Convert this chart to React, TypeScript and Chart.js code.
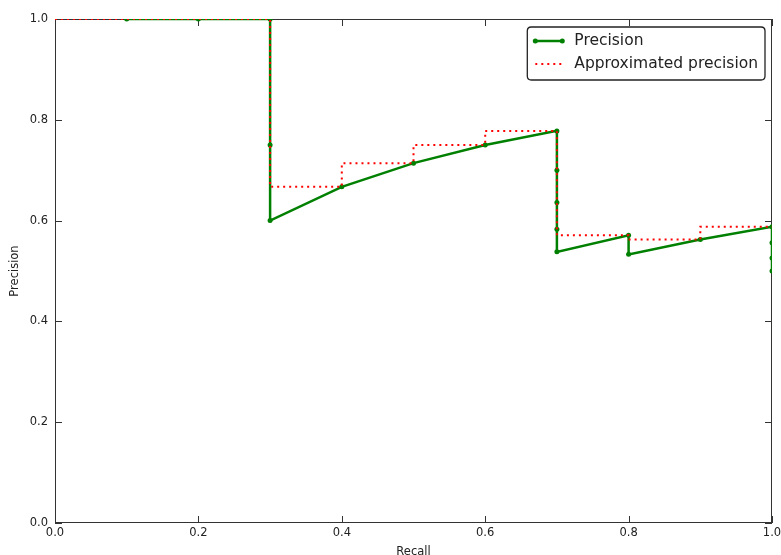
import React, { useEffect, useRef } from "react";
import { Chart, registerables } from "chart.js";

Chart.register(...registerables);

// ---- data ----
const recall = [0.1, 0.2, 0.3, 0.3, 0.3, 0.4, 0.5, 0.6, 0.7, 0.7, 0.7, 0.7, 0.7, 0.8, 0.8, 0.9, 1.0, 1.0, 1.0, 1.0];
const precision = [1.0, 1.0, 1.0, 0.75, 0.6, 0.667, 0.714, 0.75, 0.778, 0.7, 0.636, 0.583, 0.538, 0.571, 0.533, 0.5625, 0.588, 0.556, 0.526, 0.5];
const approxRecall = [0.0, 0.3, 0.3, 0.4, 0.4, 0.5, 0.5, 0.6, 0.6, 0.7, 0.7, 0.8, 0.8, 0.9, 0.9, 1.0];
const approxPrecision = [1.0, 1.0, 0.667, 0.667, 0.714, 0.714, 0.75, 0.75, 0.778, 0.778, 0.571, 0.571, 0.5625, 0.5625, 0.588, 0.588];
const xTickValues = [0.0, 0.2, 0.4, 0.6, 0.8, 1.0];
const yTickValues = [0.0, 0.2, 0.4, 0.6, 0.8, 1.0];
const seriesLabels = ["Precision", "Approximated precision"];
const xTitle = "Recall";
const yTitle = "Precision";

const FONT = "'DejaVu Sans', sans-serif";
const GREEN = "#008000";
const RED = "#ff0000";

const framePlugin = {
  id: "mplFrame",
  beforeDatasetsDraw(chart: any) {
    const { ctx, chartArea } = chart;
    const { left, right, top, bottom } = chartArea;
    const xs = chart.scales.x;
    const ys = chart.scales.y;
    ctx.save();
    ctx.strokeStyle = "#333";
    ctx.lineWidth = 1;
    ctx.strokeRect(left + 0.5, top + 0.5, right - left - 1, bottom - top - 1);
    const tl = 7;
    ctx.beginPath();
    xTickValues.forEach((v) => {
      const px = Math.round(xs.getPixelForValue(v)) + 0.5;
      ctx.moveTo(px, bottom);
      ctx.lineTo(px, bottom - tl);
      ctx.moveTo(px, top);
      ctx.lineTo(px, top + tl);
    });
    yTickValues.forEach((v) => {
      const py = Math.round(ys.getPixelForValue(v)) + 0.5;
      ctx.moveTo(left, py);
      ctx.lineTo(left + tl, py);
      ctx.moveTo(right, py);
      ctx.lineTo(right - tl, py);
    });
    ctx.stroke();
    ctx.restore();
  },
  afterDraw(chart: any) {
    const { ctx, chartArea } = chart;
    const { left, right, top, bottom } = chartArea;
    ctx.save();
    // axis titles
    ctx.fillStyle = "#222";
    ctx.font = `11.5px ${FONT}`;
    ctx.textAlign = "center";
    ctx.textBaseline = "middle";
    ctx.fillText(xTitle, (left + right) / 2, bottom + 29);
    ctx.save();
    ctx.translate(15, (top + bottom) / 2);
    ctx.rotate(-Math.PI / 2);
    ctx.fillText(yTitle, 0, 0);
    ctx.restore();

    // legend
    ctx.font = `15.5px ${FONT}`;
    const tw = Math.max(...seriesLabels.map((s) => ctx.measureText(s).width));
    const w = 47 + tw + 7;
    const h = 53;
    const bx = right - 7 - w;
    const by = top + 8;
    const r = 4;
    ctx.beginPath();
    ctx.moveTo(bx + r, by);
    ctx.lineTo(bx + w - r, by);
    ctx.quadraticCurveTo(bx + w, by, bx + w, by + r);
    ctx.lineTo(bx + w, by + h - r);
    ctx.quadraticCurveTo(bx + w, by + h, bx + w - r, by + h);
    ctx.lineTo(bx + r, by + h);
    ctx.quadraticCurveTo(bx, by + h, bx, by + h - r);
    ctx.lineTo(bx, by + r);
    ctx.quadraticCurveTo(bx, by, bx + r, by);
    ctx.closePath();
    ctx.fillStyle = "#fff";
    ctx.fill();
    ctx.strokeStyle = "#222";
    ctx.lineWidth = 1.3;
    ctx.stroke();

    const rows = [by + 14, by + 37];
    const sx0 = bx + 8;
    const sx1 = bx + 35;
    ctx.strokeStyle = GREEN;
    ctx.lineWidth = 2.5;
    ctx.beginPath();
    ctx.moveTo(sx0, rows[0]);
    ctx.lineTo(sx1, rows[0]);
    ctx.stroke();
    ctx.fillStyle = GREEN;
    [sx0, sx1].forEach((x) => {
      ctx.beginPath();
      ctx.arc(x, rows[0], 2.5, 0, Math.PI * 2);
      ctx.fill();
    });
    ctx.strokeStyle = RED;
    ctx.lineWidth = 2;
    ctx.setLineDash([2, 4]);
    ctx.beginPath();
    ctx.moveTo(sx0, rows[1]);
    ctx.lineTo(sx1, rows[1]);
    ctx.stroke();
    ctx.setLineDash([]);

    ctx.fillStyle = "#222";
    ctx.textAlign = "left";
    ctx.textBaseline = "middle";
    ctx.fillText(seriesLabels[0], bx + 47, rows[0]);
    ctx.fillText(seriesLabels[1], bx + 47, rows[1]);
    ctx.restore();
  },
};

export default function App() {
  const ref = useRef<HTMLCanvasElement | null>(null);
  useEffect(() => {
    document.body.style.margin = "0";
    const canvas = ref.current;
    if (!canvas) return;
    const chart = new Chart(canvas, {
      type: "line",
      data: {
        datasets: [
          {
            label: seriesLabels[0],
            data: recall.map((x, i) => ({ x, y: precision[i] })),
            borderColor: GREEN,
            backgroundColor: GREEN,
            borderWidth: 2.5,
            pointRadius: 2.5,
            pointBorderWidth: 0,
            pointBackgroundColor: GREEN,
            tension: 0,
            fill: false,
            clip: 0,
            order: 1,
          },
          {
            label: seriesLabels[1],
            data: approxRecall.map((x, i) => ({ x, y: approxPrecision[i] })),
            borderColor: RED,
            backgroundColor: RED,
            borderWidth: 2,
            borderDash: [2, 4],
            pointRadius: 0,
            tension: 0,
            fill: false,
            clip: 0,
            order: 0,
          },
        ],
      },
      options: {
        animation: false,
        responsive: true,
        maintainAspectRatio: false,
        layout: { padding: { left: 0, top: 19, right: 9, bottom: 0 } },
        plugins: {
          legend: { display: false },
          tooltip: { enabled: false },
        },
        scales: {
          x: {
            type: "linear",
            min: 0,
            max: 1,
            afterFit: (s: any) => {
              s.height = 32;
              s.paddingLeft = 0;
              s.paddingRight = 0;
            },
            afterBuildTicks: (s: any) => {
              s.ticks = xTickValues.map((v) => ({ value: v }));
            },
            grid: { display: false, drawTicks: false },
            border: { display: false },
            ticks: {
              padding: 3,
              color: "#222",
              font: { family: FONT, size: 11.5 },
              maxRotation: 0,
              callback: (v: any) => Number(v).toFixed(1),
            },
          },
          y: {
            type: "linear",
            min: 0,
            max: 1,
            afterFit: (s: any) => {
              s.width = 55;
              s.paddingTop = 0;
              s.paddingBottom = 0;
            },
            afterBuildTicks: (s: any) => {
              s.ticks = yTickValues.map((v) => ({ value: v }));
            },
            grid: { display: false, drawTicks: false },
            border: { display: false },
            ticks: {
              padding: 7,
              color: "#222",
              font: { family: FONT, size: 11.5 },
              callback: (v: any) => Number(v).toFixed(1),
            },
          },
        },
      },
      plugins: [framePlugin],
    });
    return () => chart.destroy();
  }, []);
  return (
    <div style={{ position: "fixed", left: 0, top: 0, width: 781, height: 555, background: "#fff" }}>
      <canvas ref={ref} />
    </div>
  );
}
